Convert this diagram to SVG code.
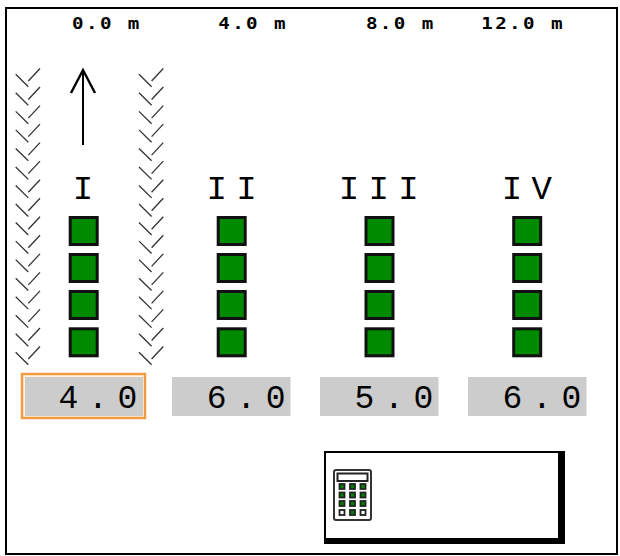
<svg xmlns="http://www.w3.org/2000/svg" xmlns:xlink="http://www.w3.org/1999/xlink" width="620" height="556" viewBox="0 0 620 556">
<style>
.top{font-family:"DejaVu Sans Mono",monospace;font-weight:700;font-size:16px;letter-spacing:2px;fill:#000}
.rom{font-family:"Liberation Mono",monospace;font-size:34px;letter-spacing:9.3px;fill:#000}
.val{font-family:"Liberation Mono",monospace;font-size:33px;letter-spacing:9.7px;fill:#000}
.sq{fill:#008a00;stroke:#111;stroke-width:3}
.gray{fill:#ccc}
.ch{fill:none;stroke:#333;stroke-width:1.3}
.k{fill:#008000;stroke:#222;stroke-width:1.8}
.w{fill:#fff;stroke:#222;stroke-width:1.8}
</style>
<defs>
<g id="chev"><path class="ch" d="M15.7 74.3L28.3 86.7M28.3 81L40 68.5"/></g>
<g id="col">
<use xlink:href="#chev" y="0"/><use xlink:href="#chev" y="18.53"/><use xlink:href="#chev" y="37.07"/><use xlink:href="#chev" y="55.6"/>
<use xlink:href="#chev" y="74.13"/><use xlink:href="#chev" y="92.67"/><use xlink:href="#chev" y="111.2"/><use xlink:href="#chev" y="129.73"/>
<use xlink:href="#chev" y="148.27"/><use xlink:href="#chev" y="166.8"/><use xlink:href="#chev" y="185.33"/><use xlink:href="#chev" y="203.87"/>
<use xlink:href="#chev" y="222.4"/><use xlink:href="#chev" y="240.93"/><use xlink:href="#chev" y="259.47"/><use xlink:href="#chev" y="278"/>
</g>
<g id="sqs">
<rect class="sq" x="0" y="217.5" width="27" height="27"/>
<rect class="sq" x="0" y="254.5" width="27" height="27"/>
<rect class="sq" x="0" y="291.5" width="27" height="27"/>
<rect class="sq" x="0" y="328.8" width="27" height="27"/>
</g>
</defs>
<rect width="620" height="556" fill="#fff"/>
<rect id="frame" x="6" y="8" width="611" height="546" fill="none" stroke="#000" stroke-width="2"/>
<g id="crop-rows">
<use xlink:href="#col"/>
<use xlink:href="#col" x="123.3"/>
</g>
<g id="arrow" fill="none" stroke="#000">
<path d="M83 145V70" stroke-width="2"/>
<path d="M71 93L83 70L95 93" stroke-width="2.4"/>
</g>
<g id="section-1">
<text class="top" transform="translate(72 29) scale(1.2 1)">0.0 m</text>
<text class="rom" x="72.8" y="199">I</text>
<use xlink:href="#sqs" x="70.2"/>
<rect x="22" y="374" width="123" height="44" fill="#fff3e0" stroke="#f59a3c" stroke-width="2.4"/>
<rect class="gray" x="25" y="377" width="118" height="39"/>
<text class="val" x="58.6" y="408">4.0</text>
</g>
<g id="section-2">
<text class="top" transform="translate(218.2 29) scale(1.2 1)">4.0 m</text>
<text class="rom" x="206.5" y="199">II</text>
<use xlink:href="#sqs" x="218.2"/>
<rect class="gray" x="172" y="377" width="118.5" height="39"/>
<text class="val" x="206.8" y="408">6.0</text>
</g>
<g id="section-3">
<text class="top" transform="translate(365.9 29) scale(1.2 1)">8.0 m</text>
<text class="rom" x="338.8" y="199">III</text>
<use xlink:href="#sqs" x="366"/>
<rect class="gray" x="320" y="377" width="118.5" height="39"/>
<text class="val" x="354.4" y="408">5.0</text>
</g>
<g id="section-4">
<text class="top" transform="translate(481.2 29) scale(1.2 1)">12.0 m</text>
<text class="rom" x="501.8" y="199">IV</text>
<use xlink:href="#sqs" x="513.7"/>
<rect class="gray" x="468" y="377" width="118.5" height="39"/>
<text class="val" x="502.4" y="408">6.0</text>
</g>
<g id="button">
<rect x="324" y="451" width="241" height="93" fill="#000"/>
<rect x="326" y="453" width="232" height="85" fill="#fff"/>
<g id="calculator">
<rect x="334" y="470" width="37" height="50" rx="2" fill="#fff" stroke="#333" stroke-width="2"/>
<rect x="337.5" y="473.5" width="30" height="7.5" fill="#fff" stroke="#222" stroke-width="2"/>
<rect class="k" x="339.5" y="484" width="5" height="5"/><rect class="k" x="350" y="484" width="5" height="5"/><rect class="k" x="360.5" y="484" width="5" height="5"/>
<rect class="k" x="339.5" y="492.5" width="5" height="5"/><rect class="k" x="350" y="492.5" width="5" height="5"/><rect class="k" x="360.5" y="492.5" width="5" height="5"/>
<rect class="k" x="339.5" y="501" width="5" height="5"/><rect class="k" x="350" y="501" width="5" height="5"/><rect class="k" x="360.5" y="501" width="5" height="5"/>
<rect class="w" x="339.5" y="510" width="5" height="5"/><rect class="k" x="350" y="510" width="5" height="5"/><rect class="w" x="360.5" y="510" width="5" height="5"/>
</g>
</g>
</svg>
